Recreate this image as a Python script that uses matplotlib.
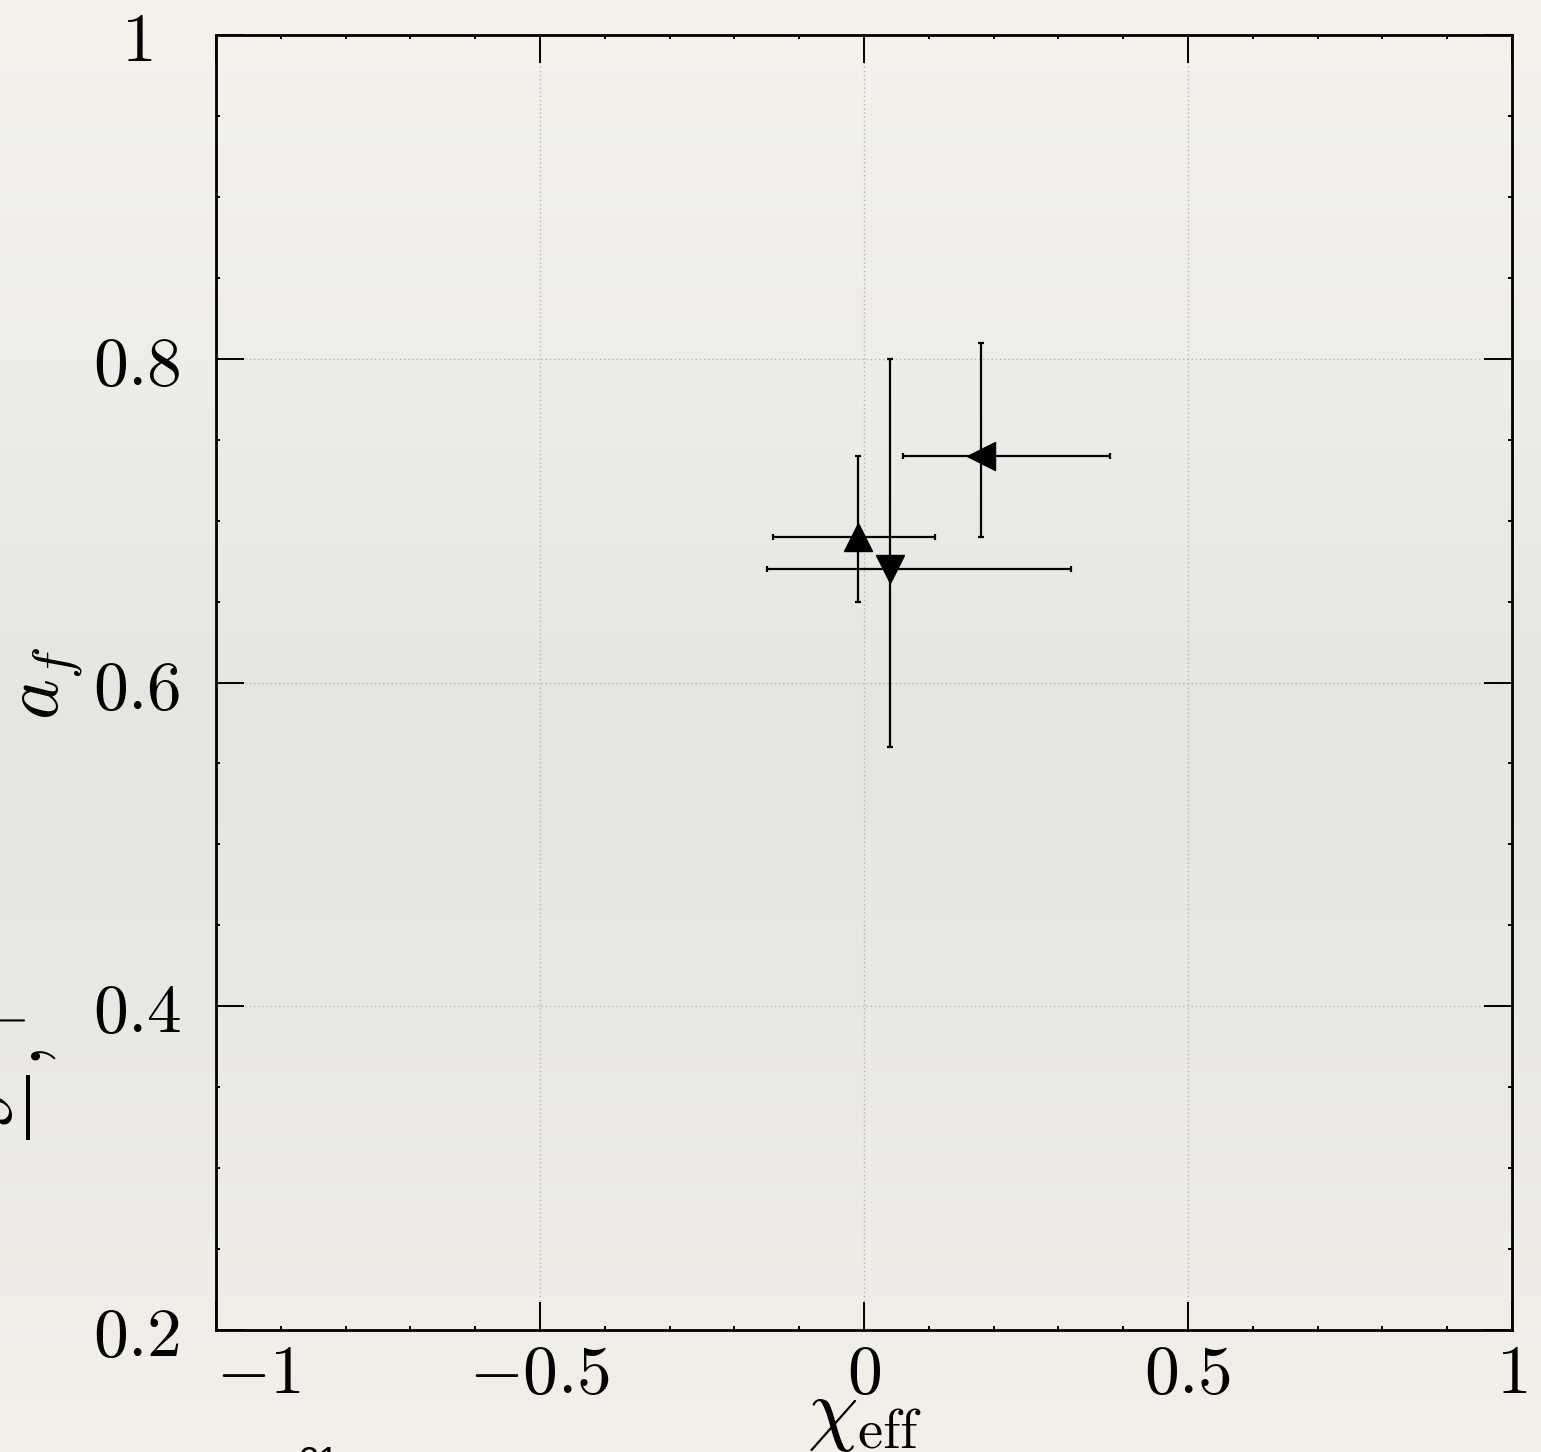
import numpy as np
import matplotlib
matplotlib.use("Agg")
import matplotlib.pyplot as plt
from matplotlib.ticker import FixedLocator, FixedFormatter, MultipleLocator

plt.rcParams['mathtext.fontset'] = 'cm'
plt.rcParams['font.family'] = ['DejaVu Serif']

# ---- data ----
markers = ['^', 'v', '<']
chi_eff = [-0.01, 0.04, 0.18]
chi_lo = [0.13, 0.19, 0.12]
chi_hi = [0.12, 0.28, 0.20]
a_f = [0.69, 0.67, 0.74]
af_lo = [0.04, 0.11, 0.05]
af_hi = [0.05, 0.13, 0.07]

xticks = [-1, -0.5, 0, 0.5, 1]
xticklabels = [r'$-1$', r'$-0.5$', r'$0$', r'$0.5$', r'$1$']
yticks = [0.2, 0.4, 0.6, 0.8, 1.0]
yticklabels = [r'$0.2$', r'$0.4$', r'$0.6$', r'$0.8$', r'$1$']

W, H = 1541, 1452
fig = plt.figure(figsize=(W / 100, H / 100), dpi=100)

# paper-like background (vertical tone variation)
bg = fig.add_axes([0, 0, 1, 1], zorder=-10)
stops_y = np.array([0.0, 0.25, 0.5, 0.7, 1.0])
stops_c = np.array([[245, 242, 236], [239, 237, 232], [230, 229, 225],
                    [234, 232, 227], [243, 240, 234]]) / 255.0
yy = np.linspace(0, 1, 400)
grad = np.stack([np.interp(yy, stops_y, stops_c[:, k]) for k in range(3)], axis=1)
bg.imshow(grad[:, None, :], aspect='auto', extent=[0, 1, 1, 0])
bg.set_axis_off()

ax = fig.add_axes([216 / W, 1 - 1330 / H, 1296 / W, 1295 / H])
ax.set_facecolor('none')

for m, x, xl, xh, y, yl, yh in zip(markers, chi_eff, chi_lo, chi_hi, a_f, af_lo, af_hi):
    ax.errorbar([x], [y], xerr=[[xl], [xh]], yerr=[[yl], [yh]], fmt=m,
                color='black', ms=20, elinewidth=1.6, capsize=2.5, capthick=1.6,
                zorder=3)

ax.set_xlim(-1, 1)
ax.set_ylim(0.2, 1)
ax.xaxis.set_major_locator(FixedLocator(xticks))
ax.xaxis.set_major_formatter(FixedFormatter(xticklabels))
ax.yaxis.set_major_locator(FixedLocator(yticks))
ax.yaxis.set_major_formatter(FixedFormatter(yticklabels))
ax.xaxis.set_minor_locator(MultipleLocator(0.1))
ax.yaxis.set_minor_locator(MultipleLocator(0.05))

ax.tick_params(which='both', direction='in', top=True, right=True, colors='black')
ax.tick_params(which='major', length=20, width=1.4, labelsize=50)
ax.tick_params(axis='y', which='major', pad=57)
ax.tick_params(axis='x', which='major', pad=8)
ax.tick_params(which='minor', length=3, width=1.4)
for s in ax.spines.values():
    s.set_linewidth(2.0)
for lab in ax.get_yticklabels():
    lab.set_horizontalalignment('center')
xlabs = ax.get_xticklabels()
xlabs[0].set_horizontalalignment('left')

ax.grid(True, which='major', linestyle=(0, (1, 2)), color='#b4b4b4', linewidth=1.0)
ax.set_axisbelow(True)

# axis labels
fig.text(864 / W, 1 - 1376 / H, r'$\chi_{\rm eff}$', ha='center', va='top', fontsize=58)
fig.text(48 / W, 1 - 683 / H, r'$a_f$', ha='center', va='center', rotation=90, fontsize=56)

# fragments of neighbouring page content cut by the crop
fig.text(42 / W, 1 - 1140 / H, r'$\frac{\vec{\mathcal{J}}}{\ \ \ \ },{}^{|}$', ha='left',
         va='baseline', rotation=90, fontsize=56, rotation_mode='anchor')
fig.text(318 / W, 1 - 1446 / H, '21', ha='center', va='top', fontsize=26,
         family='Liberation Sans')

fig.savefig('out.png', dpi=100)
